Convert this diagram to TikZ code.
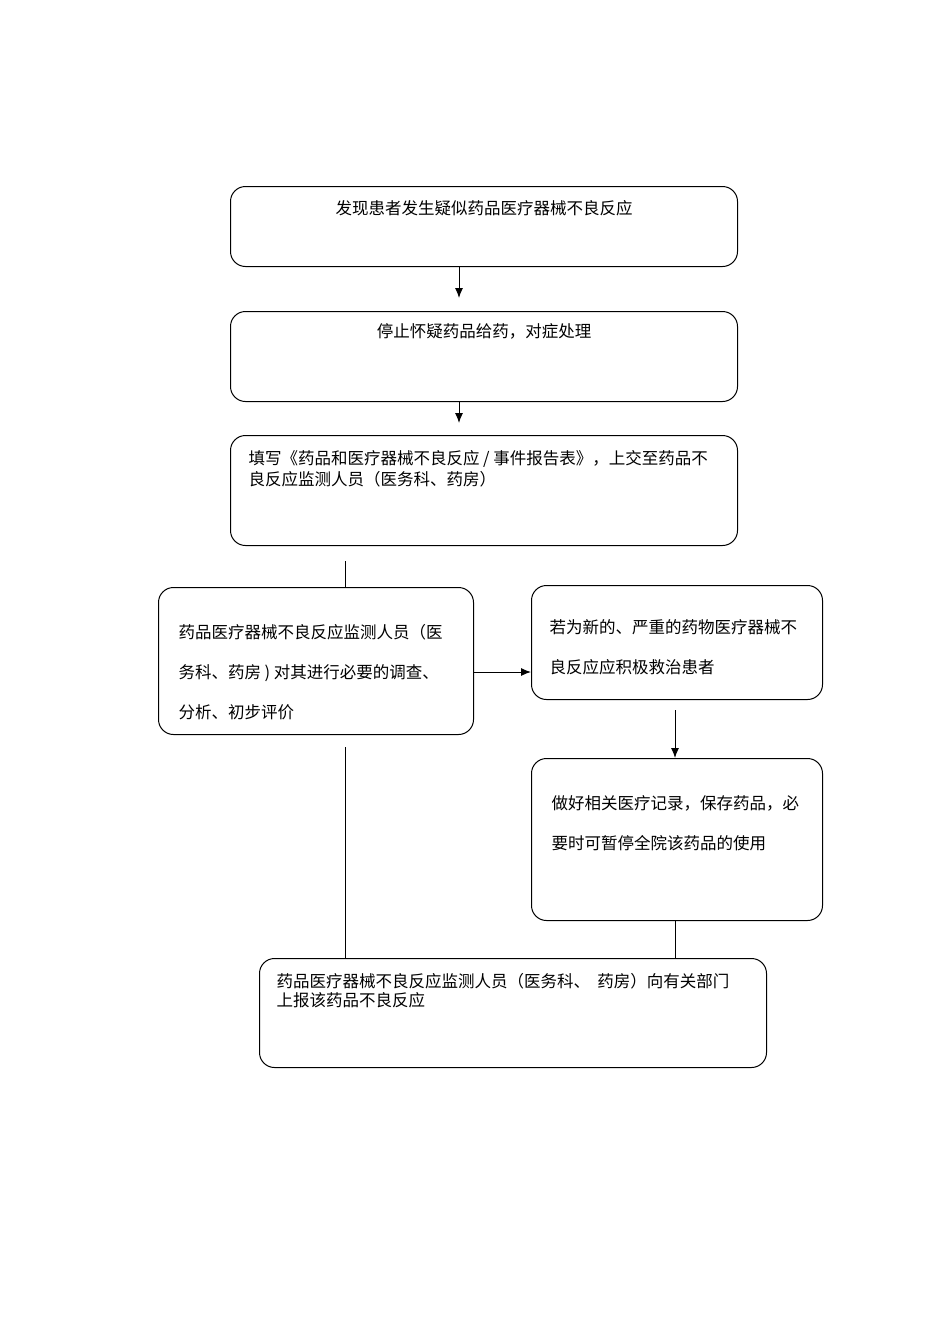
\documentclass[tikz,border=0pt]{standalone}
\usepackage{fontspec}
\setmainfont{Noto Sans CJK SC}
\usetikzlibrary{positioning,arrows.meta}
\tikzset{>={Latex[length=10pt,width=8pt]}}
\tikzset{flowbox/.style={draw,line width=1pt,rounded corners=15pt,anchor=north west,inner sep=0pt},
         link/.style={line width=1pt}}

\begin{document}
\begin{tikzpicture}[x=1pt,y=-1pt,font=\fontsize{16.5}{21}\selectfont]
        \fill[white] (0,0) rectangle (950,1344);
        \useasboundingbox (0,0) rectangle (950,1344);
        % columns and rows of the connectors
        \coordinate (colA) at (459,0);
        \coordinate (colB) at (345,0);
        \coordinate (colC) at (675,0);
        \coordinate (rowD) at (0,672);
        % boxes
        \node[flowbox] at (230,186) (b1) {\parbox[c][80pt][t]{507pt}{\centering\vspace*{13.5pt}发现患者发生疑似药品医疗器械不良反应}};
        \node[flowbox] at (230,311) (b2) {\parbox[c][90pt][t]{507pt}{\centering\vspace*{12.5pt}停止怀疑药品给药，对症处理}};
        \node[flowbox] at (230,435) (b3) {\parbox[c][110pt][t]{507pt}{\raggedright\vspace*{14.5pt}\leftskip=18pt
            填写《药品和医疗器械不良反应 / 事件报告表》，上交至药品不\\良反应监测人员（医务科、药房）}};
        \node[flowbox] at (158,587) (b4) {\parbox[c][147pt][t]{315pt}{\fontsize{16.5}{40}\selectfont\raggedright\vspace*{36.5pt}\leftskip=20pt
            药品医疗器械不良反应监测人员（医\\务科、药房 ) 对其进行必要的调查、\\分析、初步评价}};
        \node[flowbox] at (531,585) (b5) {\parbox[c][114pt][t]{291pt}{\fontsize{16.5}{40}\selectfont\raggedright\vspace*{34.5pt}\leftskip=18pt
            若为新的、严重的药物医疗器械不\\良反应应积极救治患者}};
        \node[flowbox] at (531,758) (b6) {\parbox[c][162pt][t]{291pt}{\fontsize{16.5}{40}\selectfont\raggedright\vspace*{37.5pt}\leftskip=20pt
            做好相关医疗记录，保存药品，必\\要时可暂停全院该药品的使用}};
        \node[flowbox] at (259,958) (b7) {\parbox[c][109pt][t]{507pt}{\fontsize{16.5}{19.5}\selectfont\raggedright\vspace*{14.5pt}\leftskip=17pt
            药品医疗器械不良反应监测人员（医务科、\ \ 药房）向有关部门\\上报该药品不良反应}};
        % connectors
        \draw[link,->,shorten >=13pt] (b1.south -| colA) -- (b2.north -| colA);
        \draw[link,->,shorten >=12pt] (b2.south -| colA) -- (b3.north -| colA);
        \draw[link,shorten <=15pt] (b3.south -| colB) -- (b4.north -| colB);
        \draw[link,->] (b4.east |- rowD) -- (b5.west |- rowD);
        \draw[link,->,shorten <=10pt] (b5.south -| colC) -- (b6.north -| colC);
        \draw[link] (b6.south -| colC) -- (b7.north -| colC);
        \draw[link,shorten <=12pt] (b4.south -| colB) -- (b7.north -| colB);
\end{tikzpicture}
\end{document}
